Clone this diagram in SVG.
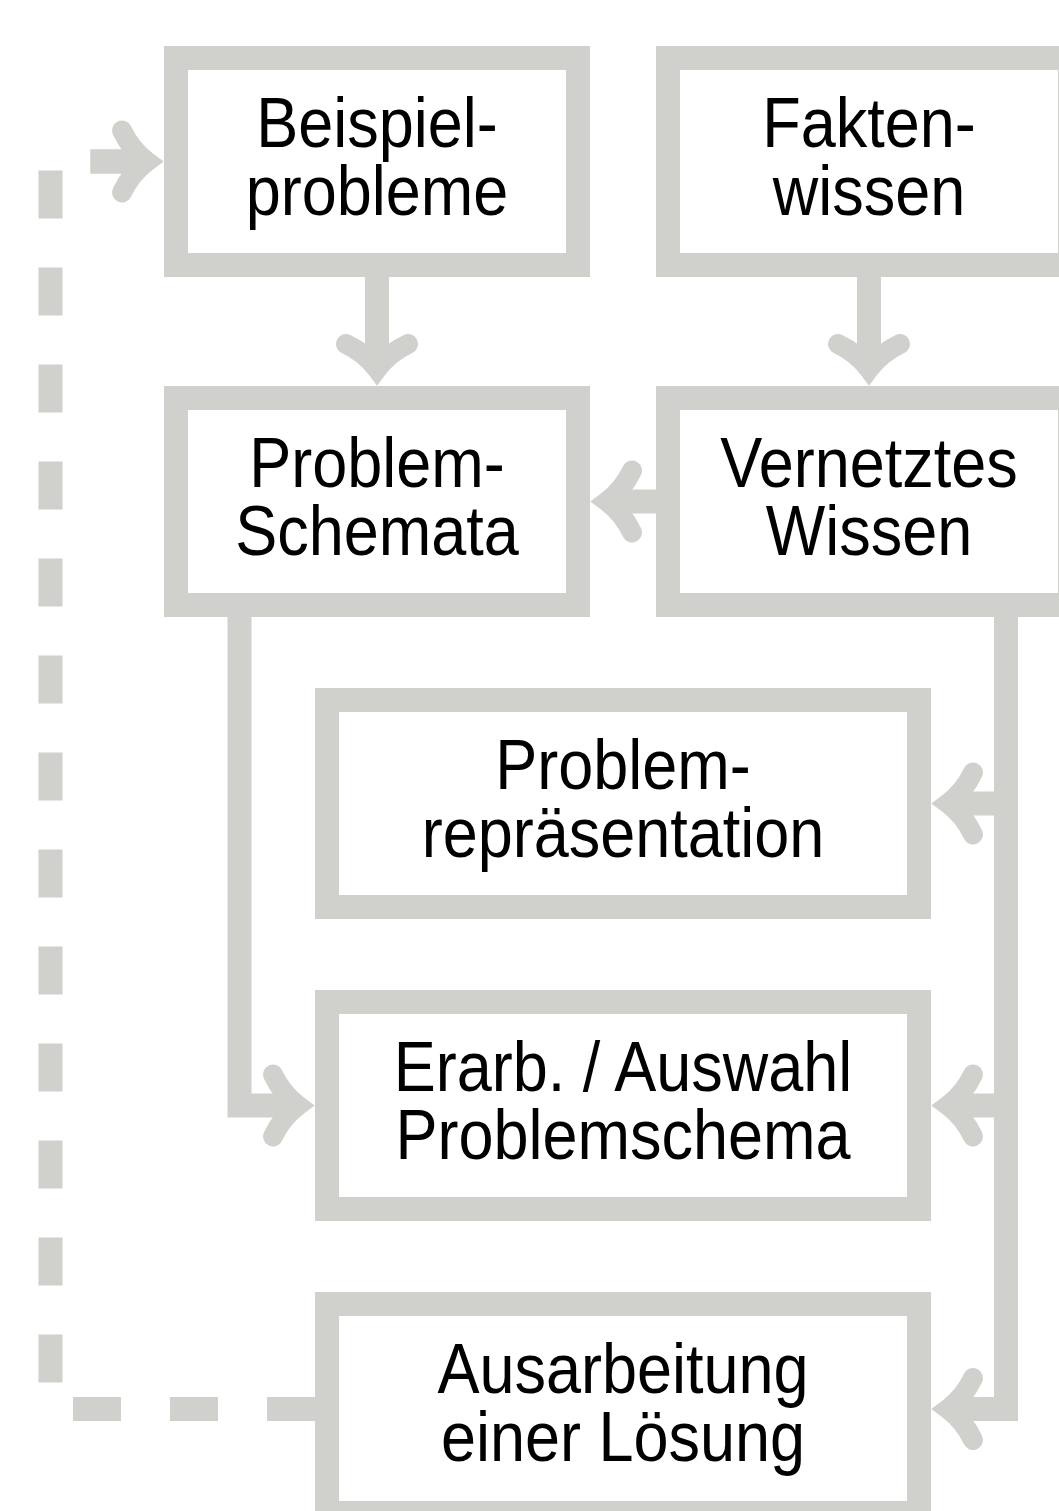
<svg xmlns="http://www.w3.org/2000/svg" xmlns:xlink="http://www.w3.org/1999/xlink" width="1059" height="1511" viewBox="0 0 1059 1511">
<style>
.box{fill:#fff;stroke:#d0d0cc;stroke-width:24}
.ln{fill:none;stroke:#d0d0cc;stroke-width:24;stroke-linejoin:miter}
.dash{fill:none;stroke:#d0d0cc;stroke-width:24;stroke-dasharray:48 49}
.t{font-family:"Liberation Sans",Arial,Helvetica,sans-serif;font-size:70px;fill:#000;text-anchor:middle}
</style>
<defs>
<path id="ah" d="M -31,-42 Q -12,-33 0,-17 Q 12,-33 31,-42" fill="none" stroke="#d0d0cc" stroke-width="20" stroke-linecap="round" stroke-linejoin="miter"/>
</defs>
<rect width="1059" height="1511" fill="#fff"/>
<g id="connectors">
<path class="ln" d="M377,277 V368"/>
<use xlink:href="#ah" transform="translate(377,386)"/>
<path class="ln" d="M869,277 V368"/>
<use xlink:href="#ah" transform="translate(869,386)"/>
<path class="ln" d="M656,501.5 H608"/>
<use xlink:href="#ah" transform="translate(590,501.5) rotate(90)"/>
<path class="ln" d="M239.5,617 V1105.5 H297"/>
<use xlink:href="#ah" transform="translate(315,1105.5) rotate(-90)"/>
<path class="ln" d="M1006,617 V1409 H949"/>
<path class="ln" d="M1006,803.5 H949"/>
<path class="ln" d="M1006,1105.5 H949"/>
<use xlink:href="#ah" transform="translate(931,803.5) rotate(90)"/>
<use xlink:href="#ah" transform="translate(931,1105.5) rotate(90)"/>
<use xlink:href="#ah" transform="translate(931,1409) rotate(90)"/>
<path class="dash" d="M315,1409 H50.5 V161.5 H164"/>
<path class="ln" d="M90.5,161.5 H146"/>
<use xlink:href="#ah" transform="translate(164,161.5) rotate(-90)"/>
</g>
<g id="n1"><rect class="box" x="176" y="58" width="402" height="207"/>
<text class="t" transform="translate(377,0) scale(0.9,1)"><tspan x="0" y="147">Beispiel-</tspan><tspan x="0" y="215">probleme</tspan></text></g>
<g id="n2"><rect class="box" x="668" y="58" width="402" height="207"/>
<text class="t" transform="translate(869,0) scale(0.9,1)"><tspan x="0" y="147">Fakten-</tspan><tspan x="0" y="215">wissen</tspan></text></g>
<g id="n3"><rect class="box" x="176" y="398" width="402" height="207"/>
<text class="t" transform="translate(377,0) scale(0.9,1)"><tspan x="0" y="487">Problem-</tspan><tspan x="0" y="555">Schemata</tspan></text></g>
<g id="n4"><rect class="box" x="668" y="398" width="402" height="207"/>
<text class="t" transform="translate(869,0) scale(0.9,1)"><tspan x="0" y="487">Vernetztes</tspan><tspan x="0" y="555">Wissen</tspan></text></g>
<g id="n5"><rect class="box" x="327" y="700" width="592" height="207"/>
<text class="t" transform="translate(623,0) scale(0.9,1)"><tspan x="0" y="789">Problem-</tspan><tspan x="0" y="857">repräsentation</tspan></text></g>
<g id="n6"><rect class="box" x="327" y="1002" width="592" height="207"/>
<text class="t" transform="translate(623,0) scale(0.9,1)"><tspan x="0" y="1091">Erarb. / Auswahl</tspan><tspan x="0" y="1159">Problemschema</tspan></text></g>
<g id="n7"><rect class="box" x="327" y="1304" width="592" height="209"/>
<text class="t" transform="translate(623,0) scale(0.9,1)"><tspan x="0" y="1393">Ausarbeitung</tspan><tspan x="0" y="1461">einer Lösung</tspan></text></g>
</svg>
